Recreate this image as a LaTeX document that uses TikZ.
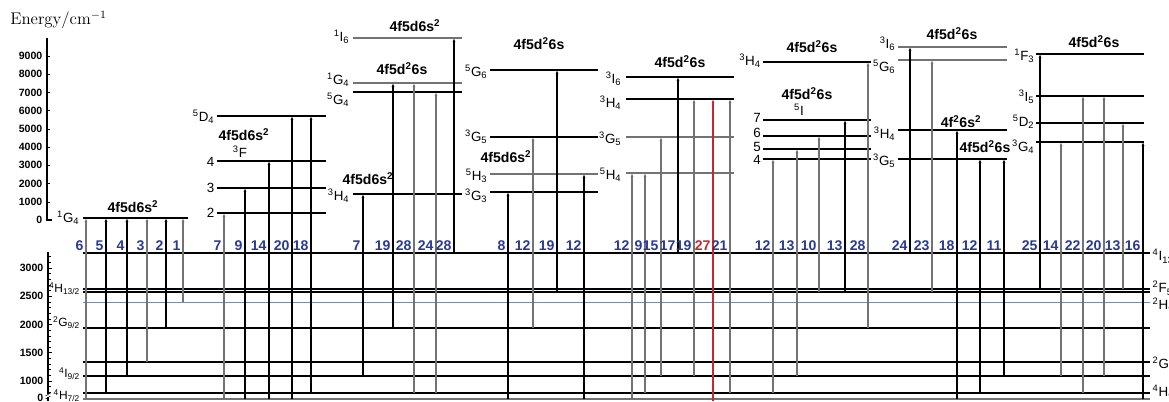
\documentclass[tikz,border=0pt]{standalone}
\usepackage{fontspec}
\setsansfont{Liberation Sans}
\usetikzlibrary{arrows.meta}
\definecolor{numblue}{RGB}{40,58,150}
\definecolor{numred}{RGB}{200,40,45}
\definecolor{lgray}{RGB}{115,115,115}
\definecolor{lblue}{RGB}{120,140,165}
\newcommand{\trm}[3]{\textsuperscript{#1}#2\textsubscript{#3}}
\tikzset{
  axe/.style={line width=0.9pt},
  lvl/.style={line width=1pt},
  tr/.style={-{Latex[length=3pt,width=2.2pt]}, line width=0.8pt},
  trk/.style={black}, trg/.style={lgray}, trr/.style={numred},
  num/.style={font=\sffamily\bfseries\fontsize{10}{10}\selectfont, anchor=south east, inner sep=0.5pt, text=numblue},
  numk/.style={}, numg/.style={}, numr/.style={text=numred},
  term/.style={font=\sffamily\fontsize{9.5}{9.5}\selectfont, anchor=east, inner sep=1pt},
  sterm/.style={term, font=\sffamily\fontsize{8.5}{8.5}\selectfont, inner sep=0.5pt},
  conf/.style={font=\sffamily\bfseries\fontsize{10}{10}\selectfont, inner sep=0pt},
  axlab/.style={font=\sffamily\bfseries\fontsize{7.5}{7.5}\selectfont, anchor=east, inner sep=1pt}
}
\begin{document}
\begin{tikzpicture}[x=0.025cm, y=-0.025cm]
\useasboundingbox (0,0) rectangle (1169,401);
% axes
\node[font=\fontsize{12}{12}\selectfont, anchor=west, inner sep=0pt] (ener) at (10,20) {Energy/cm$^{-1}$};
\draw[axe] (47,38) -- (47,220) -- (52,220);
\foreach \e in {0,1000,...,9000} {
  \draw (47,{220-\e*0.01822}) -- (50,{220-\e*0.01822});
  \node[axlab] (u\e) at (44,{220-\e*0.01822}) {\e};
}
\draw[axe] (48,252) -- (48,394) (48,397) -- (48,401);
\foreach \e in {800,900,...,3200} \draw (48,{381-(\e-1000)*0.0565}) -- (50.5,{381-(\e-1000)*0.0565});
\foreach \e in {1000,1500,...,3000} {
  \draw (48,{381-(\e-1000)*0.0565}) -- (52,{381-(\e-1000)*0.0565});
  \node[axlab] (l\e) at (45,{381-(\e-1000)*0.0565}) {\e};
}
\node[axlab] (l0) at (45,398) {0};
\draw (45.5,396) -- (50.5,393) (45.5,399) -- (50.5,396);

% niveaux de depart
\foreach \y/\c/\w in {253/black/1.2pt, 289/black/0.9pt, 292/black/0.9pt, 302/lblue/0.6pt, 328/black/1pt, 362/black/1pt, 376/black/1pt, 393/black/1pt, 399/lgray/1pt}
  \draw[\c, line width=\w] (83,\y) -- (1150,\y);
\foreach \y/\t in {289/{\trm{4}{H}{13/2}}, 323/{\trm{2}{G}{9/2}}, 374/{\trm{4}{I}{9/2}}, 396/{\trm{4}{H}{7/2}}}
  \node[sterm] (gl\y) at (81,\y) {\t};
\foreach \y/\t in {256/{\trm{4}{I}{13/2}}, 288/{\trm{2}{F}{5/2}}, 305/{\trm{2}{H}{9/2}}, 364/{\trm{2}{G}{7/2}}, 392/{\trm{4}{H}{9/2}}}
  \node[term, anchor=west] (gr\y) at (1151,\y) {\t};

% niveaux excites, groupe par groupe
\foreach \y/\ly/\t/\c in {218/218/{\trm{1}{G}{4}}/black}
  {\draw[lvl,\c] (83,\y) -- (188,\y); \node[term] (g1-\y) at (81,\ly) {\t};}
\foreach \y/\ly/\t/\c in {116/117/{\trm{5}{D}{4}}/black, 161/162/4/black, 188/188/3/black, 213/213/2/black}
  {\draw[lvl,\c] (217,\y) -- (326,\y); \node[term] (g2-\y) at (216,\ly) {\t};}
\foreach \y/\ly/\t/\c in {38/37/{\trm{1}{I}{6}}/lgray, 83/80/{\trm{1}{G}{4}}/lgray, 92/100/{\trm{5}{G}{4}}/black, 194/196/{\trm{3}{H}{4}}/black}
  {\draw[lvl,\c] (353,\y) -- (462,\y); \node[term] (g3-\y) at (351,\ly) {\t};}
\foreach \y/\ly/\t/\c in {70/72/{\trm{5}{G}{6}}/black, 137/137/{\trm{3}{G}{5}}/black, 174/176/{\trm{5}{H}{3}}/lgray, 192/196/{\trm{3}{G}{3}}/black}
  {\draw[lvl,\c] (490,\y) -- (598,\y); \node[term] (g4-\y) at (489,\ly) {\t};}
\foreach \y/\ly/\t/\c in {77/79/{\trm{3}{I}{6}}/black, 99/103/{\trm{3}{H}{4}}/black, 137/139/{\trm{3}{G}{5}}/lgray, 173/175/{\trm{5}{H}{4}}/lgray}
  {\draw[lvl,\c] (626,\y) -- (734,\y); \node[term] (g5-\y) at (623,\ly) {\t};}
\foreach \y/\ly/\t/\c in {62/61/{\trm{3}{H}{4}}/black, 120/118/7/black, 136/133/6/black, 149/147/5/black, 159/160/4/black}
  {\draw[lvl,\c] (763,\y) -- (871,\y); \node[term, inner sep=0pt] (g6-\y) at (761,\ly) {\t};}
\foreach \y/\ly/\t/\c in {47/44/{\trm{3}{I}{6}}/lgray, 60/67/{\trm{5}{G}{6}}/lgray, 130/134/{\trm{3}{H}{4}}/black, 159/161/{\trm{3}{G}{5}}/black}
  {\draw[lvl,\c] (898,\y) -- (1007,\y); \node[term] (g7-\y) at (897,\ly) {\t};}
\foreach \y/\ly/\t/\c in {54/56/{\trm{1}{F}{3}}/black, 96/97/{\trm{3}{I}{5}}/black, 123/122/{\trm{5}{D}{2}}/black, 142/147/{\trm{3}{G}{4}}/black}
  {\draw[lvl,\c] (1036,\y) -- (1144,\y); \node[term] (g8-\y) at (1036,\ly) {\t};}

% configurations
\node[conf] (c1) at (133,207) {4f5d6s\textsuperscript{2}};
\node[conf] (c2) at (244,135) {4f5d6s\textsuperscript{2}};
\node[term, anchor=center, inner sep=0pt] (c2b) at (240,152) {\textsuperscript{3}F};
\node[conf] (c3) at (415,26) {4f5d6s\textsuperscript{2}};
\node[conf] (c3b) at (402,69) {4f5d\textsuperscript{2}6s};
\node[conf] (c3c) at (368,179) {4f5d6s\textsuperscript{2}};
\node[conf] (c4) at (539,44) {4f5d\textsuperscript{2}6s};
\node[conf] (c4b) at (506,157) {4f5d6s\textsuperscript{2}};
\node[conf] (c5) at (680,62) {4f5d\textsuperscript{2}6s};
\node[conf] (c6) at (812,47) {4f5d\textsuperscript{2}6s};
\node[conf] (c6b) at (807,94) {4f5d\textsuperscript{2}6s};
\node[term, anchor=center] (c6c) at (799,110) {\textsuperscript{5}I};
\node[conf] (c7) at (952,34) {4f5d\textsuperscript{2}6s};
\node[conf] (c7b) at (961,122) {4f\textsuperscript{2}6s\textsuperscript{2}};
\node[conf] (c7c) at (985,147) {4f5d\textsuperscript{2}6s};
\node[conf] (c8) at (1094,42) {4f5d\textsuperscript{2}6s};

% transitions
\foreach \x/\lo/\hi/\n/\s in {
  86/399/218/6/g, 106/393/218/5/k, 127/376/218/4/k, 147/362/218/3/g, 166/328/218/2/k, 183/302/218/1/g,
  224/399/213/7/g, 245/399/188/9/k, 269/399/161/14/k, 292/399/116/20/k, 311/393/116/18/k,
  363/376/194/7/k, 393/328/83/19/k, 414/393/83/28/g, 436/393/92/24/g, 454/253/38/28/k,
  508/399/192/8/k, 533/328/137/12/g, 557/292/70/19/k, 584/399/174/12/k,
  632/399/173/12/g, 645/393/173/9/g, 661/376/137/15/g, 678/253/77/17/k, 694/376/99/19/g, 713/401/99/27/r, 730/393/99/21/g,
  773/393/159/12/g, 797/376/149/13/g, 819/292/136/10/g, 845/292/120/13/k, 868/328/62/28/g,
  910/253/47/24/k, 932/292/60/23/g, 957/399/130/18/k, 980/393/159/12/k, 1004/376/159/11/k,
  1040/289/54/25/k, 1061/376/142/14/g, 1083/393/96/22/g, 1104/376/96/20/g, 1123/289/123/13/g, 1143/399/142/16/k} {
  \coordinate (b\x) at (\x,\lo); \coordinate (t\x) at (\x,\hi);
  \draw[tr,tr\s] (b\x) -- (t\x);
  \node[num,num\s] (n\x) at (\x-1.5,251.5) {\n};
}
\end{tikzpicture}
\end{document}
